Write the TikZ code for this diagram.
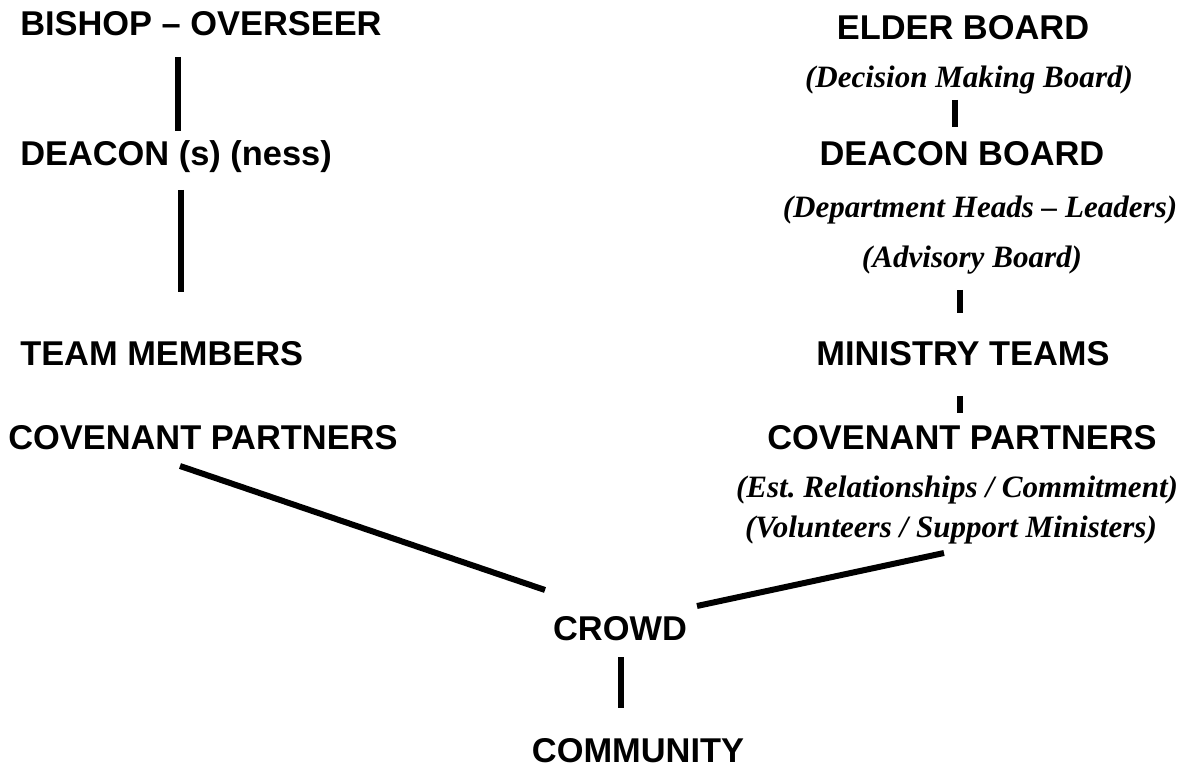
\documentclass[tikz,border=0pt]{standalone}
\usepackage{fontspec}
\setmainfont{Liberation Serif}
\setsansfont{Liberation Sans}
\usepackage{tikz}

\begin{document}
\begin{tikzpicture}[x=0.75pt, y=-0.75pt,
  rank/.style={inner sep=0pt, font=\sffamily\bfseries\fontsize{25.8}{30}\selectfont},
  note/.style={inner sep=0pt, font=\rmfamily\bfseries\itshape\fontsize{23.3}{28}\selectfont},
  link/.style={line width=4.5pt}]
\useasboundingbox (0,0) rectangle (1196,773);
% left column
\node[rank, anchor=base west] (bishop) at (20,36) {BISHOP \textendash{} OVERSEER};
\node[rank, anchor=base west] (deaconL) at (20,166) {DEACON (s) (ness)};
\node[rank, anchor=base west] (teamL) at (20,366) {TEAM MEMBERS};
\node[rank, anchor=base west] (covL) at (8,450) {COVENANT PARTNERS};
% right column
\node[rank, anchor=base] (elder) at (963,40) {ELDER BOARD};
\node[note, anchor=base] (decision) at (969,88) {(Decision Making Board)};
\node[rank, anchor=base] (deaconR) at (962,166) {DEACON BOARD};
\node[note, anchor=base] (heads) at (980,218) {(Department Heads \textendash{} Leaders)};
\node[note, anchor=base] (advisory) at (972,268) {(Advisory Board)};
\node[rank, anchor=base] (ministry) at (963,366) {MINISTRY TEAMS};
\node[rank, anchor=base] (covR) at (962,450) {COVENANT PARTNERS};
\node[note, anchor=base] (est) at (957,497) {(Est.\ Relationships / Commitment)};
\node[note, anchor=base] (volunteers) at (951,537) {(Volunteers / Support Ministers)};
% bottom
\node[rank, anchor=base] (crowd) at (620,640) {CROWD};
\node[rank, anchor=base] (community) at (638,762) {COMMUNITY};

\draw[link] ([shift={(158,21)}] bishop.base west) -- ([shift={(158,-35)}] deaconL.base west);
\draw[link] ([shift={(161,24)}] deaconL.base west) -- ([shift={(161,-74)}] teamL.base west);
\draw[link] ([shift={(172,16)}] covL.base west) -- ([shift={(-75,-50)}] crowd.base);
\draw[link] ([shift={(-14,12)}] decision.base) -- ([shift={(-7,-39)}] deaconR.base);
\draw[link] ([shift={(-12,22)}] advisory.base) -- ([shift={(-3,-53)}] ministry.base);
\draw[link] ([shift={(-3,30)}] ministry.base) -- ([shift={(-2,-37)}] covR.base);
\draw[link] ([shift={(77,-34)}] crowd.base) -- ([shift={(-7,16)}] volunteers.base);
\draw[link] ([shift={(1,17)}] crowd.base) -- ([shift={(-17,-54)}] community.base);
\end{tikzpicture}
\end{document}
